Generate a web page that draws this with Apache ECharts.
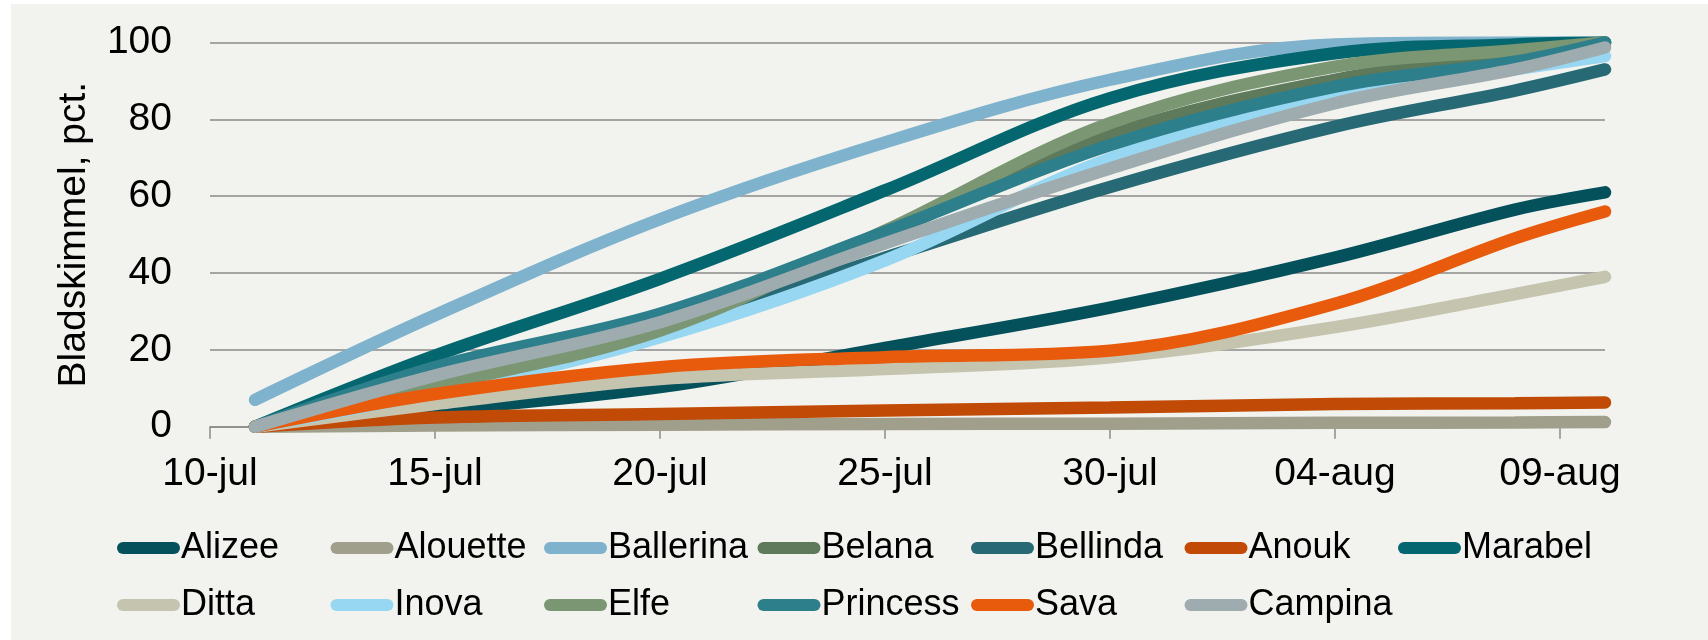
<!DOCTYPE html>
<html>
<head>
<meta charset="utf-8">
<script src="https://cdn.jsdelivr.net/npm/echarts@6/dist/echarts.min.js"></script>
<style>
  html, body { margin: 0; padding: 0; background: #ffffff; }
  #chart-container { position: absolute; left: 11px; top: 4px; width: 1697px; height: 636px; }
</style>
</head>
<body>
<div id="chart-container"></div>
<script>
// dag i juli (32 = 01-aug)
var days = [11, 15, 20, 25, 30, 35, 39, 41];
var tickDays = [10, 15, 20, 25, 30, 35, 40];
var tickLabels = ["10-jul", "15-jul", "20-jul", "25-jul", "30-jul", "04-aug", "09-aug"];

var names = ["Alizee", "Alouette", "Ballerina", "Belana", "Bellinda", "Anouk", "Marabel",
  "Ditta", "Inova", "Elfe", "Princess", "Sava", "Campina"];
var colors = ["#04515c", "#a09f8c", "#7fb2cc", "#5f7a5b", "#276a75", "#c04a06", "#04666f",
  "#c5c4ae", "#98d7f2", "#7a9673", "#2e7f8c", "#e85b0c", "#9eabaf"];

var alizee    = [0, 4.2, 10.3, 20.5, 31, 44, 56.5, 61];
var alouette  = [0, 0.3, 0.5, 0.7, 0.8, 1, 1.1, 1.2];
var ballerina = [7, 29, 54, 74, 90.3, 99.5, 100, 100];
var belana    = [0, 10.7, 25, 50, 75.9, 90.3, 97, 100];
var bellinda  = [0, 12, 26, 44, 62.4, 78.1, 87.5, 93];
var anouk     = [0, 2.4, 3.3, 4.2, 5, 5.9, 6.1, 6.3];
var marabel   = [0, 18.5, 38.5, 61.5, 85.5, 97.2, 99.5, 100];
var ditta     = [0, 5.9, 12.4, 15, 18.1, 25.9, 34.5, 39];
var inova     = [0, 9, 23.3, 43.3, 69.8, 86, 93, 96.5];
var elfe      = [0, 10.7, 25, 51, 79, 93.7, 98, 100];
var princess  = [0, 15.5, 29.4, 50.7, 73.3, 88.5, 95, 100];
var sava      = [0, 8.5, 15.5, 18.1, 19.8, 32, 49, 56];
var campina   = [0, 13.3, 27.2, 47.7, 67.2, 84.2, 93, 98.7];

var values = [alizee, alouette, ballerina, belana, bellinda, anouk, marabel,
  ditta, inova, elfe, princess, sava, campina];

var font = "'Liberation Sans', Arial, sans-serif";
var pill = "path://M6,0 H57 A6,6 0 0 1 57,12 H6 A6,6 0 0 1 6,0 Z";

var series = names.map(function (name, i) {
  return {
    name: name,
    type: "line",
    smooth: 0.35,
    showSymbol: false,
    symbol: "none",
    color: colors[i],
    lineStyle: { width: 12.5, color: colors[i], cap: "round" },
    data: days.map(function (d, j) { return [d, values[i][j]]; }),
  };
});

// en legend pr. navn, 7 pr. raekke med fast kolonnebredde
var legends = names.map(function (name, i) {
  var row = Math.floor(i / 7), col = i % 7;
  return {
    data: [name],
    left: 101 + col * 213.5,
    top: row === 0 ? 521 : 578,
    icon: pill,
    itemWidth: 63,
    itemHeight: 12,
    selectedMode: false,
    textStyle: { fontFamily: font, fontSize: 36, color: "#000", padding: [0, 0, 0, -4] },
  };
});

var dom = document.getElementById("chart-container");
var myChart = echarts.init(dom, null, { renderer: "canvas" });

myChart.setOption({
  backgroundColor: "#f2f3ee",
  animation: false,
  grid: { left: 199, right: 103, top: 38.5, bottom: 213.3 },
  legend: legends,
  xAxis: {
    type: "value",
    min: 10,
    max: 41,
    interval: 5,
    splitLine: { show: false },
    axisLine: { lineStyle: { color: "#8a8a8a", width: 1.5 } },
    axisTick: { show: true, length: 12, customValues: tickDays, lineStyle: { color: "#8a8a8a", width: 1.5 } },
    axisLabel: {
      customValues: tickDays,
      margin: 28,
      fontFamily: font,
      fontSize: 39,
      color: "#000",
      formatter: function (v) { return tickLabels[tickDays.indexOf(v)] || ""; },
    },
  },
  yAxis: {
    type: "value",
    min: 0,
    max: 100,
    interval: 20,
    name: "Bladskimmel, pct.",
    nameLocation: "middle",
    nameGap: 116,
    nameTextStyle: { fontFamily: font, fontSize: 39, color: "#000" },
    axisLine: { show: false },
    axisTick: { show: false },
    splitLine: { lineStyle: { color: "#8a8a8a", width: 1.5 } },
    axisLabel: { margin: 38, fontFamily: font, fontSize: 39, color: "#000" },
  },
  series: series,
});

window.addEventListener("resize", myChart.resize);
</script>
</body>
</html>
